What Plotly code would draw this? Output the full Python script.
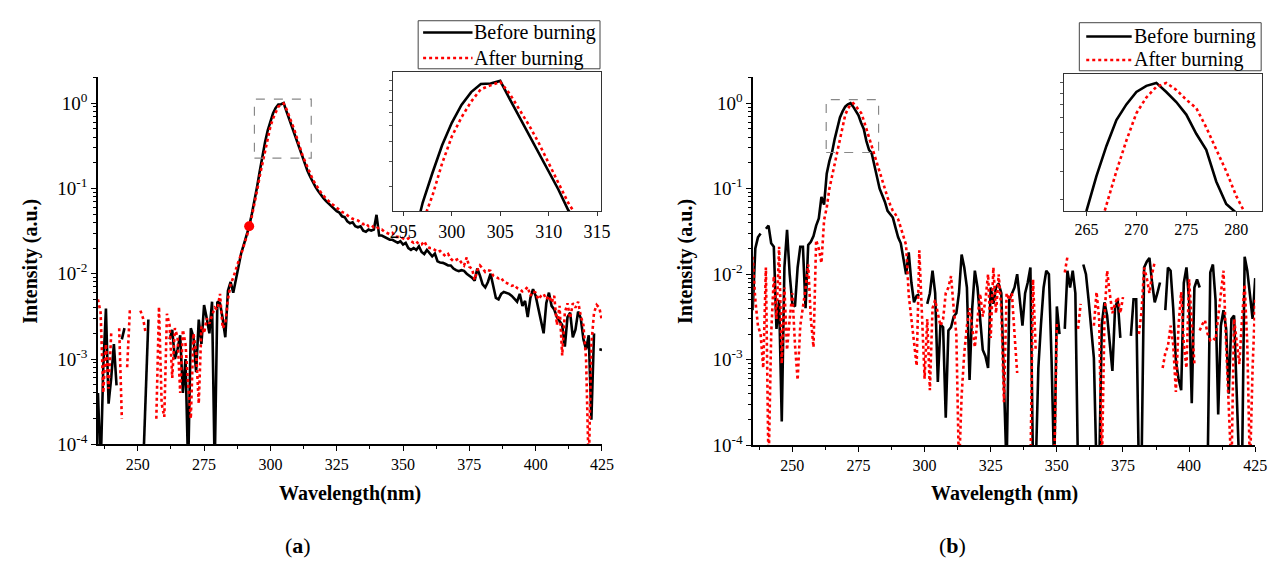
import math
import plotly.graph_objects as go

FONT = "Liberation Serif"

# ---------------- data ----------------
wavelength = list(range(235, 426))  # 1 nm sampling, 235..425 nm

before_a = [
    4e-4, 5e-5, 8e-4, 3.9e-3, 3e-4, 6e-4, 1.5e-3, 4.9e-4, None, 1.7e-3,          # 235-244
    2.3e-3, None, None, None, None, None, None, 5e-5, 4e-4, 2.9e-3,               # 245-254
    None, None, None, None, None, None, None, 1.7e-3, 2.2e-3, 1.0e-3,             # 255-264
    1.3e-3, 1.9e-3, 4e-4, 1.0e-3, 5e-5, 2.3e-3, 1.8e-3, 7e-4, 2.9e-3, 1.5e-3,     # 265-274
    4.3e-3, 3.0e-3, 2.0e-3, 4.7e-3, 5e-5, 4.7e-3, 4.5e-3, 3.0e-3, 1.8e-3, 6.3e-3, # 275-284
    8e-3, 6e-3, 8.5e-3, 1.3e-2, 1.75e-2, 2.2e-2, 2.8e-2, 3.6e-2, 5.0e-2, 7.0e-2,  # 285-294
    0.105, 0.16, 0.25, 0.35, 0.48, 0.62, 0.76, 0.88, 0.965, 0.97,                 # 295-304
    1.0, 0.81, 0.66, 0.54, 0.44, 0.36, 0.29, 0.23, 0.19, 0.16,                    # 305-314
    0.137, 0.118, 0.104, 0.093, 0.084, 0.077, 0.071, 0.066, 0.062, 0.058,         # 315-324
    0.054, 0.052, 0.047, 0.046, 0.041, 0.039, 0.040, 0.036, 0.035, 0.036,         # 325-334
    0.032, 0.031, 0.033, 0.032, 0.033, 0.049, 0.028, 0.028, 0.027, 0.026,         # 335-344
    0.025, 0.025, 0.024, 0.023, 0.024, 0.022, 0.023, 0.020, 0.019, 0.020,         # 345-354
    0.019, 0.021, 0.018, 0.017, 0.019, 0.0175, 0.016, 0.0172, 0.014, 0.0135,      # 355-364
    0.0134, 0.013, 0.0125, 0.0125, 0.0115, 0.011, 0.0107, 0.011, 0.0108, 0.0100,  # 365-374
    0.0095, 0.0090, 0.0083, 0.0115, 0.0095, 0.0075, 0.0069, 0.0080, 0.0100, 0.0072,  # 375-384
    0.0052, 0.0050, 0.0058, 0.0061, 0.0060, 0.0058, 0.0055, 0.0050, 0.0047, 0.0058,  # 385-394
    0.0042, 0.0048, 0.0031, 0.0052, 0.0066, 0.0055, 0.0040, 0.0030, 0.0020, 0.0045,  # 395-404
    0.0060, 0.0042, 0.0038, 0.0031, 0.0028, 0.0025, 0.0014, 0.0031, 0.0035, 0.0018,  # 405-414
    0.0022, 0.0036, 0.0030, 0.0017, 0.0013, 0.0019, 1.95e-4, 0.0020, None, 0.0013,   # 415-424
    0.00128,                                                                          # 425
]

after_a = [
    5e-3, 3.5e-3, 4e-4, 1.5e-3, 4.5e-4, 2.0e-3, None, None, 2.3e-3, 2.0e-4,       # 235-244
    None, 8e-4, 3.6e-3, 3.6e-3, None, None, 3.7e-3, 3.0e-3, 2.0e-3, None,         # 245-254
    None, None, 2.0e-4, 4.1e-3, 3e-4, 2.1e-4, 3.4e-3, 2.5e-3, 6e-4, 2.3e-3,       # 255-264
    1.8e-3, 4e-4, 2.2e-3, 1.5e-3, 5e-4, 2.0e-4, 2.0e-3, 1.2e-3, 3e-4, 2.4e-3,     # 265-274
    2.0e-3, 3.0e-3, 2.6e-3, 3.2e-3, 4.0e-3, 3.8e-3, 5.8e-3, 2.3e-3, 2.6e-3, 5.0e-3,  # 275-284
    7.5e-3, 9e-3, 1.15e-2, 1.4e-2, 1.7e-2, 2.1e-2, 2.7e-2, 3.4e-2, 4.7e-2, 6.5e-2,   # 285-294
    0.095, 0.14, 0.20, 0.27, 0.39, 0.53, 0.66, 0.79, 0.91, 0.95,                  # 295-304
    0.99, 0.86, 0.72, 0.60, 0.49, 0.39, 0.31, 0.25, 0.21, 0.175,                  # 305-314
    0.148, 0.127, 0.112, 0.099, 0.090, 0.082, 0.076, 0.071, 0.066, 0.063,         # 315-324
    0.059, 0.056, 0.053, 0.051, 0.048, 0.046, 0.044, 0.043, 0.042, 0.040,         # 325-334
    0.038, 0.039, 0.036, 0.037, 0.035, 0.036, 0.033, 0.033, 0.031, 0.030,         # 335-344
    0.029, 0.030, 0.027, 0.027, 0.027, 0.026, 0.025, 0.026, 0.024, 0.023,         # 345-354
    0.024, 0.022, 0.022, 0.024, 0.021, 0.020, 0.020, 0.019, 0.018, 0.0185,        # 355-364
    0.017, 0.016, 0.017, 0.015, 0.014, 0.0145, 0.015, 0.0135, 0.0125, 0.0155,     # 365-374
    0.012, 0.0115, 0.0085, 0.011, 0.0125, 0.0115, 0.0105, 0.011, 0.0108, 0.0095,  # 375-384
    0.0092, 0.0088, 0.0090, 0.0080, 0.0078, 0.0075, 0.0072, 0.0074, 0.0068, 0.0066,  # 385-394
    0.0062, 0.0065, 0.0070, 0.0055, 0.0062, 0.0060, 0.0050, 0.0055, 0.0058, 0.0050,  # 395-404
    0.0055, 0.0046, 0.0055, 0.0025, 0.0042, 0.0011, 0.0035, 0.0045, 0.0030, 0.0045,  # 405-414
    0.0040, 0.0047, 0.0032, 0.0025, 0.0010, 5e-5, 0.0015, 0.0035, 0.0043, 0.0040,    # 415-424
    0.0028,                                                                           # 425
]

before_b = [
    3.8e-3, 0.020, 0.027, 0.030, None, 0.034, 0.037, 0.023, 0.021, 2.3e-3,        # 235-244
    5e-3, 1.9e-4, 0.012, 0.033, 0.010, 4.5e-3, 4.2e-3, 0.012, 0.021, 0.021,       # 245-254
    4e-3, 0.022, 0.024, 0.028, 0.037, 0.045, 0.080, 0.065, 0.15, 0.21,            # 255-264
    0.265, 0.38, 0.52, 0.68, 0.80, 0.91, 0.97, 1.0, 0.91, 0.82,                   # 265-274
    0.72, 0.59, 0.50, 0.36, 0.285, 0.26, 0.19, 0.14, 0.10, 0.084,                 # 275-284
    0.070, 0.055, 0.050, 0.046, 0.035, 0.027, 0.023, 0.015, 0.010, 0.018,         # 285-294
    8e-3, 4.7e-3, 5.6e-3, 5.8e-3, None, None, 4.5e-3, 6e-3, 0.011, 6e-3,          # 295-304
    5.5e-4, 2.6e-3, 2.4e-3, 2.1e-4, 2.2e-3, 2.4e-3, 3.2e-3, 3.5e-3, 6e-3, 0.017,  # 305-314
    0.012, 0.007, 5.8e-4, 4e-3, 0.011, 0.007, 3e-3, 1.3e-3, 1.1e-3, 8e-4,        # 315-324
    7e-3, 4.5e-3, 7e-3, 7.8e-3, 6e-3, 5e-4, 5e-5, 5e-3, 6e-3, 7e-3,              # 325-334
    0.010, 5e-3, 2.5e-3, 6e-3, 8e-3, 0.012, 5e-5, 5e-5, 8e-4, 2.6e-3,            # 335-344
    7e-3, 0.011, 0.010, 1e-3, 5e-5, 4.2e-3, 2e-3, None, 2.3e-3, 0.011,           # 345-354
    7e-3, 0.011, 6e-3, 5e-5, None, 0.013, 0.010, 5e-3, 2.1e-3, 1.05e-3,          # 355-364
    5e-5, 5e-5, 2.6e-3, 4.7e-3, 3.3e-3, 1.5e-3, 7.4e-4, 4e-3, 5e-3, 1.8e-3,      # 365-374
    None, None, None, 1.9e-3, 5.1e-3, 5.1e-3, 5e-5, 5e-5, 0.012, 0.014,          # 375-384
    0.0155, 8e-3, 4.7e-3, 6e-3, 8e-3, None, 3.8e-3, 0.012, 0.011, 4e-3,          # 385-394
    9.8e-4, 6e-4, 4.4e-4, 7.9e-3, 0.012, 5e-3, 3.1e-4, 7e-3, 8.7e-3, 7e-3,       # 395-404
    None, None, 5e-5, 0.0105, 0.013, 5e-3, 2.3e-4, 2.5e-3, 3.8e-3, 2.3e-3,       # 405-414
    4e-4, 3e-3, 3.3e-3, 4e-4, 5e-5, 5e-5, 0.016, 0.011, 6e-3, 3e-3,              # 415-424
    9e-3,                                                                         # 425
]

after_b = [
    0.016, 5e-3, 2.5e-3, 2e-3, 8e-4, 0.012, 5e-5, 2e-3, 9.5e-3, 3e-3,            # 235-244
    0.021, 9e-4, 7e-3, 1.3e-3, 3e-3, 6e-3, 1.5e-3, 5.8e-4, 2.5e-3, 4e-3,         # 245-254
    6.8e-3, 0.013, 3e-3, 1.4e-3, 0.025, 0.020, 0.0135, 0.043, 0.06, 0.10,        # 255-264
    0.14, 0.20, 0.28, 0.40, 0.55, 0.73, 0.86, 0.96, 1.0, 0.93,                   # 265-274
    0.84, 0.77, 0.63, 0.50, 0.40, 0.31, 0.25, 0.20, 0.15, 0.12,                  # 275-284
    0.10, 0.079, 0.065, 0.055, 0.050, 0.044, 0.035, 0.028, 0.022, 5.7e-3,        # 285-294
    3e-3, 1.8e-3, 8.5e-4, 0.019, 4e-3, 6e-4, 3e-3, 4.4e-4, 4e-3, 5e-3,           # 295-304
    3.5e-3, 2.5e-3, 3e-3, 6e-3, 7e-3, 9.5e-3, 4e-3, 2e-3, 5e-5, 3.8e-4,          # 305-314
    1.2e-3, 2.5e-3, 4e-3, 2.3e-3, 1.4e-3, 3e-3, 5.9e-3, 3.2e-3, 5e-3, 0.010,     # 315-324
    1.8e-3, 0.012, 3.5e-3, 0.010, 4e-3, 3.2e-4, 6e-3, 5e-3, 6e-3, 2e-3,          # 325-334
    7e-4, None, None, None, None, 5e-5, 8.7e-3, 1.3e-3, None, None,              # 335-344
    None, None, None, None, 5e-5, 2.75e-3, None, None, 0.0105, 0.016,            # 345-354
    None, None, None, 2.3e-3, 4.5e-3, None, None, None, None, 2.5e-3,            # 355-364
    6.2e-3, 3e-3, 5e-5, 3e-3, 0.011, 6e-3, 3.5e-3, 4.5e-3, 5.4e-3, 3.5e-3,       # 365-374
    5.4e-3, None, None, None, None, None, 2e-3, 3.6e-3, 0.012, 9e-3,             # 375-384
    6e-3, 0.010, 0.014, None, None, 8e-4, 1.2e-3, 1.45e-3, 2.5e-3, 1.5e-3,       # 385-394
    4.2e-4, 2.5e-3, 6.2e-3, 1.5e-3, 8e-4, 8.7e-3, 3e-3, 9e-4, None, 2.2e-3,      # 395-404
    2.6e-3, 2.9e-3, 2e-3, 1.7e-3, 1.8e-3, 1.7e-3, 3e-3, 6e-3, 0.011, 1.5e-3,     # 405-414
    3e-4, 5e-5, 3e-3, 1.5e-3, 8.9e-4, 3e-3, 7.6e-3, 1.5e-3, 5e-5, 8e-4,          # 415-424
    5.1e-3,                                                                       # 425
]

marker_a_x = [292]
marker_a_y = [0.036]

series_names = ["Before burning", "After burning"]

x_tickvals = [250, 275, 300, 325, 350, 375, 400, 425]
x_minorvals = [237.5, 262.5, 287.5, 312.5, 337.5, 362.5, 387.5, 412.5]
y_tickvals = [1e-4, 1e-3, 1e-2, 1e-1, 1]
y_ticktext = ["10<sup>-4</sup>", "10<sup>-3</sup>", "10<sup>-2</sup>", "10<sup>-1</sup>", "10<sup>0</sup>"]
y_minorvals = [m * 10.0 ** e for e in range(-4, 1) for m in range(2, 10)]
inset_a_ticks = [295, 300, 305, 310, 315]
inset_b_ticks = [265, 270, 275, 280]
inset_y_minor = [0.3, 0.4, 0.5, 0.6, 0.7, 0.8, 0.9, 1.0]

# zoom windows (shown as dashed boxes and as insets)
zoom_a_x = [293.98, 315.4]
zoom_a_y = [0.227, 1.11]
zoom_b_x = [262.8, 282.6]
zoom_b_y = [0.265, 1.10]

# ---------------- figure ----------------
W, H = 1279, 565
def fx(px):
    return px / W
def fy(py):
    return 1 - py / H

BLACK = dict(color="black", width=2.6)
RED = dict(color="#ff0000", width=2.6, dash="dot")

fig = go.Figure()

def add_pair(xa, ya, yb, yr):
    fig.add_trace(go.Scatter(x=wavelength, y=yb, mode="lines", line=BLACK, name=series_names[0],
                             showlegend=False, xaxis=xa, yaxis=ya))
    fig.add_trace(go.Scatter(x=wavelength, y=yr, mode="lines", line=RED, name=series_names[1],
                             showlegend=False, xaxis=xa, yaxis=ya))

add_pair("x", "y", before_a, after_a)
fig.add_trace(go.Scatter(x=marker_a_x, y=marker_a_y, mode="markers",
                         marker=dict(color="#ff0000", size=10), showlegend=False,
                         xaxis="x", yaxis="y"))
add_pair("x2", "y2", before_b, after_b)
add_pair("x3", "y3", before_a, after_a)
add_pair("x4", "y4", before_b, after_b)

def main_x(domain, anchor, rng):
    return dict(domain=domain, anchor=anchor, range=rng, showgrid=False, zeroline=False,
                showline=True, linecolor="black", linewidth=1.5,
                ticks="outside", ticklen=5, tickwidth=1.3, tickcolor="black",
                tickmode="array", tickvals=x_tickvals,
                tickfont=dict(family=FONT, size=16, color="black"),
                minor=dict(ticks="outside", ticklen=3, tickwidth=1.2, tickcolor="black",
                           tickmode="array", tickvals=x_minorvals, showgrid=False))

def main_y(domain, anchor):
    return dict(domain=domain, anchor=anchor, type="log", range=[-4, 0.31],
                showgrid=False, zeroline=False,
                showline=True, linecolor="black", linewidth=1.5,
                ticks="outside", ticklen=5, tickwidth=1.3, tickcolor="black",
                tickmode="array", tickvals=y_tickvals, ticktext=y_ticktext,
                tickfont=dict(family=FONT, size=19, color="black"),
                minor=dict(ticks="outside", ticklen=3, tickwidth=1, tickcolor="black",
                           tickmode="array", tickvals=y_minorvals, showgrid=False))

def inset_x(domain, anchor, rng, ticks, size):
    return dict(domain=domain, anchor=anchor, range=rng, showgrid=False, zeroline=False,
                showline=True, mirror=True, linecolor="#333", linewidth=1,
                ticks="outside", ticklen=4, tickwidth=1, tickcolor="#333",
                tickmode="array", tickvals=ticks,
                tickfont=dict(family=FONT, size=size, color="black"))

def inset_y(domain, anchor, rng):
    return dict(domain=domain, anchor=anchor, type="log",
                range=[math.log10(rng[0]), math.log10(rng[1])],
                showgrid=False, zeroline=False, showticklabels=False,
                showline=True, mirror=True, linecolor="#333", linewidth=1,
                ticks="outside", ticklen=3, tickwidth=1, tickcolor="#555",
                tickmode="array", tickvals=inset_y_minor)

fig.update_layout(
    width=W, height=H,
    margin=dict(l=0, r=0, t=0, b=0),
    paper_bgcolor="white", plot_bgcolor="rgba(0,0,0,0)",
    font=dict(family=FONT, color="black"),
    showlegend=False,
    xaxis=main_x([fx(88), fx(598)], "y", [235, 425]),
    yaxis=main_y([fy(445), fy(70)], "x"),
    xaxis2=main_x([fx(751), fx(1259)], "y2", [235.2, 425]),
    yaxis2=main_y([fy(446), fy(70)], "x2"),
    xaxis3=inset_x([fx(387), fx(597)], "y3", zoom_a_x, inset_a_ticks, 18),
    yaxis3=inset_y([fy(207), fy(65)], "x3", zoom_a_y),
    xaxis4=inset_x([fx(1066), fx(1266)], "y4", zoom_b_x, inset_b_ticks, 16),
    yaxis4=inset_y([fy(207), fy(67)], "x4", zoom_b_y),
)

# dashed zoom boxes on the main panels
for xr, yr, xa, ya in [(zoom_a_x, zoom_a_y, "x", "y"), (zoom_b_x, zoom_b_y, "x2", "y2")]:
    fig.add_shape(type="rect", xref=xa, yref=ya, x0=xr[0], x1=xr[1], y0=yr[0], y1=yr[1],
                  line=dict(color="#888", width=1.2, dash="dash"), fillcolor="rgba(0,0,0,0)")

# legend boxes (drawn in paper space): box (left, top, right, bottom), sample x range, text x, row y's
legend_boxes = [
    dict(box=(412, 13, 596, 62), sample=(417, 467), text_x=466, rows=(25, 51)),
    dict(box=(1081, 15, 1265, 64), sample=(1088, 1134), text_x=1134, rows=(29, 53)),
]
for lg in legend_boxes:
    l, t, r, b = lg["box"]
    fig.add_shape(type="rect", xref="paper", yref="paper", x0=fx(l), x1=fx(r), y0=fy(b), y1=fy(t),
                  line=dict(color="#444", width=1), fillcolor="white")
    for name, style, ry in zip(series_names, [BLACK, RED], lg["rows"]):
        fig.add_shape(type="line", xref="paper", yref="paper",
                      x0=fx(lg["sample"][0]), x1=fx(lg["sample"][1]), y0=fy(ry), y1=fy(ry),
                      line=style)
        fig.add_annotation(text=name, x=fx(lg["text_x"]), y=fy(ry), xref="paper", yref="paper",
                           xanchor="left", yanchor="middle", showarrow=False,
                           font=dict(family=FONT, size=20, color="black"))

# axis titles and panel labels
ann = [
    dict(text="<b>Intensity (a.u.)</b>", x=fx(20), y=fy(258), textangle=-90, size=20),
    dict(text="<b>Intensity (a.u.)</b>", x=fx(683), y=fy(258), textangle=-90, size=20),
    dict(text="<b>Wavelength(nm)</b>", x=fx(343), y=fy(495), textangle=0, size=20),
    dict(text="<b>Wavelength (nm)</b>", x=fx(1005), y=fy(495), textangle=0, size=20),
    dict(text="(<b>a</b>)", x=fx(290), y=fy(548), textangle=0, size=22),
    dict(text="(<b>b</b>)", x=fx(953), y=fy(548), textangle=0, size=22),
]
for a in ann:
    fig.add_annotation(text=a["text"], x=a["x"], y=a["y"], xref="paper", yref="paper",
                       xanchor="center", yanchor="middle", showarrow=False,
                       textangle=a["textangle"],
                       font=dict(family=FONT, size=a["size"], color="black"))

fig.write_html("out.html")
